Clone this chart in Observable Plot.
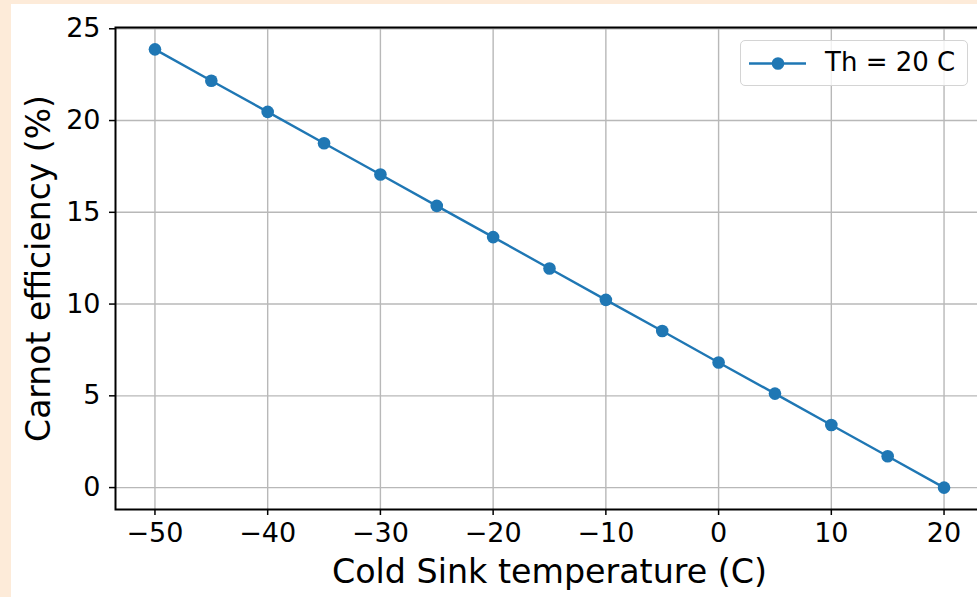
<!DOCTYPE html>
<html>
<head>
<meta charset="utf-8">
<script src="https://cdn.jsdelivr.net/npm/d3@7"></script>
<script src="https://cdn.jsdelivr.net/npm/@observablehq/plot@0.6"></script>
<style>
  html, body { margin: 0; padding: 0; width: 977px; height: 597px; background: #fdebd9; overflow: hidden; }
  #panel { position: absolute; left: 11px; top: 4px; width: 966px; height: 593px; background: #ffffff; overflow: hidden; }
  #panel > svg { display: block; max-width: none !important; width: 972px !important; height: 593px !important; }
  #legend { position: absolute; left: 729px; top: 36px; width: 228px; height: 46px; border: 1.3px solid #d4d4d4; border-radius: 5px; background: rgba(255,255,255,0.8); box-sizing: border-box; font-family: "DejaVu Sans", sans-serif; font-size: 26px; color: #000; }
  #legend svg { position: absolute; left: 0; top: 0; }
  #legend span { position: absolute; left: 84px; top: 6px; line-height: 30px; white-space: nowrap; }
</style>
</head>
<body>
<div id="panel"></div>
<script>
// Data
const coldTemps = [-50, -45, -40, -35, -30, -25, -20, -15, -10, -5, 0, 5, 10, 15, 20];
const efficiency = [23.88, 22.17, 20.47, 18.76, 17.06, 15.35, 13.65, 11.94, 10.23, 8.53, 6.82, 5.12, 3.41, 1.71, 0];
const xTicks = [-50, -40, -30, -20, -10, 0, 10, 20];
const yTicks = [0, 5, 10, 15, 20, 25];
const seriesLabel = "Th = 20 C";
const xLabel = "Cold Sink temperature (C)";
const yLabel = "Carnot efficiency (%)";

const data = coldTemps.map((t, i) => ({t, e: efficiency[i]}));
const fmt = d => d < 0 ? "\u2212" + Math.abs(d) : String(d);
const blue = "#1f77b4";

const chart = Plot.plot({
  width: 972,
  height: 593,
  marginLeft: 104,
  marginTop: 23,
  marginBottom: 88,
  marginRight: 0,
  style: {fontFamily: "DejaVu Sans, sans-serif", background: "transparent", color: "#000", maxWidth: "none"},
  x: {domain: [-53.5, 23.5]},
  y: {domain: [-1.194, 25.07]},
  marks: [
    Plot.gridX(xTicks, {stroke: "#b8b8b8", strokeOpacity: 1, strokeWidth: 1.4}),
    Plot.gridY(yTicks, {stroke: "#b8b8b8", strokeOpacity: 1, strokeWidth: 1.4}),
    Plot.line(data, {x: "t", y: "e", stroke: blue, strokeWidth: 2.4}),
    Plot.dot(data, {x: "t", y: "e", fill: blue, r: 6.3}),
    Plot.frame({stroke: "#000", strokeWidth: 2}),
    Plot.axisX(xTicks, {tickFormat: fmt, tickSize: 6, tickPadding: 7, fontSize: 27, stroke: "#000", strokeWidth: 1.5, label: null, fill: "#000"}),
    Plot.axisY(yTicks, {tickFormat: fmt, tickSize: 6, tickPadding: 9, fontSize: 27, stroke: "#000", strokeWidth: 1.5, label: null, fill: "#000"}),
    Plot.text([xLabel], {frameAnchor: "bottom", text: d => d, dy: 73, lineAnchor: "bottom", fontSize: 33.3, fill: "#000"}),
    Plot.text([yLabel], {frameAnchor: "left", text: d => d, dx: -66, rotate: -90, textAnchor: "middle", lineAnchor: "bottom", fontSize: 33, fill: "#000"})
  ]
});
const panel = document.getElementById("panel");
panel.appendChild(chart);

// Legend
const legend = document.createElement("div");
legend.id = "legend";
legend.innerHTML = `<svg width="90" height="46"><line x1="8" x2="65" y1="22.5" y2="22.5" stroke="${blue}" stroke-width="2.4"/><circle cx="37" cy="22.5" r="6.3" fill="${blue}"/></svg><span>${seriesLabel}</span>`;
panel.appendChild(legend);
</script>
</body>
</html>
